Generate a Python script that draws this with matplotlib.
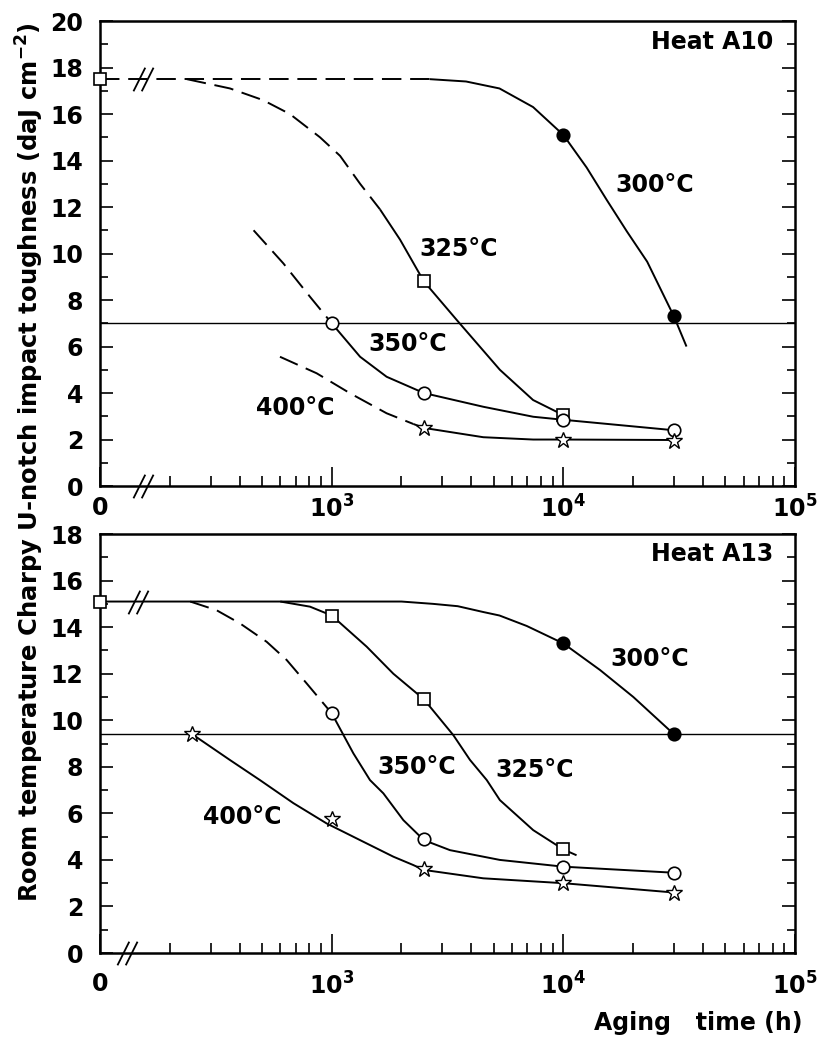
import numpy as np
import matplotlib
matplotlib.use("Agg")
import matplotlib.pyplot as plt
from matplotlib.path import Path
from matplotlib.ticker import FixedLocator, NullFormatter, FixedFormatter

plt.rcParams['font.family'] = ['DejaVu Sans']
plt.rcParams['font.weight'] = 'bold'
plt.rcParams['mathtext.fontset'] = 'dejavusans'
plt.rcParams['mathtext.default'] = 'bf'

# ---------------- data (aging time in h, toughness in daJ cm^-2) ----------------
x_tick_vals = [0, 1e3, 1e4, 1e5]
x_tick_labels = ['0', r'$10^3$', r'$10^4$', r'$10^5$']

# Heat A10
a10_t0 = 17.5
a10_ref = 7.0
a10_300_dash_t = [0, 2000, 2650]
a10_300_dash_v = [17.5, 17.5, 17.5]
a10_300_t = [2650, 3800, 5300, 7400, 10000, 12600, 15400, 18800, 23000, 30000, 34000]
a10_300_v = [17.5, 17.4, 17.1, 16.3, 15.1, 13.7, 12.3, 10.95, 9.65, 7.3, 6.0]
a10_300_pt_t = [10000, 30000]
a10_300_pt_v = [15.1, 7.3]

a10_325_dash_t = [237, 364, 505, 660, 890, 1087, 1326, 1616]
a10_325_dash_v = [17.5, 17.1, 16.6, 16.0, 15.0, 14.2, 13.0, 11.9]
a10_325_t = [1616, 1972, 2500, 3460, 5320, 7400, 10000]
a10_325_v = [11.9, 10.6, 8.8, 7.15, 5.0, 3.7, 3.05]
a10_325_pt_t = [2500, 10000]
a10_325_pt_v = [8.8, 3.05]

a10_350_dash_t = [460, 618, 806, 1000]
a10_350_dash_v = [11.0, 9.58, 8.14, 7.0]
a10_350_t = [1000, 1326, 1726, 2500, 4510, 7410, 10000, 30000]
a10_350_v = [7.0, 5.56, 4.70, 4.0, 3.41, 2.98, 2.85, 2.4]
a10_350_pt_t = [1000, 2500, 10000, 30000]
a10_350_pt_v = [7.0, 4.0, 2.85, 2.4]

a10_400_dash_t = [598, 861, 1200, 1726, 2250]
a10_400_dash_v = [5.56, 4.85, 3.99, 3.13, 2.67]
a10_400_t = [2250, 2500, 4510, 7410, 10000, 30000]
a10_400_v = [2.67, 2.5, 2.1, 2.0, 2.0, 1.98]
a10_400_pt_t = [2500, 10000, 30000]
a10_400_pt_v = [2.5, 2.0, 1.95]

# Heat A13
a13_t0 = 15.1
a13_ref = 9.4
a13_300_t = [0, 2000, 2740, 3500, 4510, 5300, 6950, 10000, 14390, 20040, 30000]
a13_300_v = [15.1, 15.1, 15.0, 14.9, 14.65, 14.5, 14.05, 13.3, 12.16, 11.0, 9.4]
a13_300_pt_t = [10000, 30000]
a13_300_pt_v = [13.3, 9.4]

a13_325_t = [600, 806, 1000, 1416, 1845, 2500, 3350, 3950, 4670, 5320, 7410, 10000, 11400]
a13_325_v = [15.1, 14.88, 14.5, 13.16, 12.0, 10.9, 9.36, 8.3, 7.43, 6.57, 5.28, 4.45, 4.2]
a13_325_pt_t = [1000, 2500, 10000]
a13_325_pt_v = [14.5, 10.9, 4.45]

a13_350_dash_t = [245, 318, 402, 524, 639, 780, 1000]
a13_350_dash_v = [15.1, 14.73, 14.16, 13.37, 12.59, 11.58, 10.3]
a13_350_t = [1000, 1240, 1463, 1671, 2038, 2500, 3240, 5320, 10000, 30000]
a13_350_v = [10.3, 8.58, 7.43, 6.86, 5.71, 4.85, 4.42, 4.0, 3.71, 3.45]
a13_350_pt_t = [1000, 2500, 10000, 30000]
a13_350_pt_v = [10.3, 4.9, 3.7, 3.45]

a13_400_t = [250, 364, 490, 683, 950, 1326, 1845, 2250, 2500, 4510, 10000, 30000]
a13_400_v = [9.4, 8.29, 7.43, 6.44, 5.57, 4.85, 4.14, 3.78, 3.57, 3.21, 3.0, 2.6]
a13_400_pt_t = [250, 1000, 2500, 10000, 30000]
a13_400_pt_v = [9.4, 5.75, 3.6, 3.0, 2.6]

# ---------------- helpers ----------------
ZERO_AT = 100.0  # where t = 0 sits on the broken log axis


def tp(t):
    t = np.asarray(t, dtype=float)
    return np.where(t == 0, ZERO_AT, t)


LW = 1.4
DASH = (0, (10, 4.5))


def curve(ax, t, v, dashed=False):
    ax.plot(tp(t), v, color='black', lw=LW, ls=DASH if dashed else '-',
            zorder=3, solid_capstyle='butt', solid_joinstyle='round',
            dash_joinstyle='round')


def pts(ax, t, v, kind):
    kw = dict(ls='none', color='black', mec='black', zorder=5, clip_on=False)
    if kind == 's':
        ax.plot(tp(t), v, marker='s', ms=8, mfc='white', mew=1.2, **kw)
    elif kind == 'o':
        ax.plot(tp(t), v, marker='o', ms=9, mfc='white', mew=1.2, **kw)
    elif kind == 'f':
        ax.plot(tp(t), v, marker='o', ms=9, mfc='black', mew=1.2, **kw)
    elif kind == '*':
        ax.plot(tp(t), v, marker='*', ms=12, mfc='white', mew=1.0, **kw)


slash_path = Path([(-0.85, -1), (0.15, 1), (-0.15, -1), (0.85, 1)],
                  [Path.MOVETO, Path.LINETO, Path.MOVETO, Path.LINETO])


def brk(ax, x, y):
    ax.plot([x], [y], marker=slash_path, ms=17, mec='black', mew=1.3,
            ls='none', zorder=6, clip_on=False)


def setup(ax, ymax, xpad):
    ax.set_xscale('log')
    ax.set_xlim(100, 1e5)
    ax.set_ylim(0, ymax)
    for s in ax.spines.values():
        s.set_linewidth(1.8)
    ax.xaxis.set_major_locator(FixedLocator(tp(x_tick_vals)))
    ax.xaxis.set_major_formatter(FixedFormatter(x_tick_labels))
    minors = [m * 10 ** d for d in (2, 3, 4) for m in range(2, 10)]
    ax.xaxis.set_minor_locator(FixedLocator(minors))
    ax.xaxis.set_minor_formatter(NullFormatter())
    ax.yaxis.set_major_locator(FixedLocator(np.arange(0, ymax + 0.1, 2)))
    ax.yaxis.set_minor_locator(FixedLocator(np.arange(0, ymax + 0.1, 1)))
    ax.tick_params(axis='x', which='major', direction='in', length=14, width=1.2,
                   labelsize=17, pad=xpad, top=False)
    ax.tick_params(axis='x', which='minor', direction='in', length=7.5, width=1.2,
                   top=False)
    ax.tick_params(axis='y', which='major', direction='in', length=9.5, width=1.2,
                   labelsize=17, pad=12, right=True)
    ax.tick_params(axis='y', which='minor', direction='in', length=6, width=1.2,
                   right=True)
    for lab in ax.get_xticklabels() + ax.get_yticklabels():
        lab.set_fontweight('bold')


def lab(ax, t, v, s):
    ax.text(t, v, s, fontsize=17, fontweight='bold', ha='center', va='center', zorder=7)


# ---------------- figure ----------------
fig = plt.figure(figsize=(8.22, 10.41), dpi=100)
ax1 = fig.add_axes([0.1217, 0.5331, 0.8455, 0.4467])
ax2 = fig.add_axes([0.1217, 0.0845, 0.8455, 0.4025])

# Heat A10
setup(ax1, 20, 7)
ax1.axhline(a10_ref, color='black', lw=1.0, zorder=2)
curve(ax1, a10_300_dash_t, a10_300_dash_v, dashed=True)
curve(ax1, a10_300_t, a10_300_v)
curve(ax1, a10_325_dash_t, a10_325_dash_v, dashed=True)
curve(ax1, a10_325_t, a10_325_v)
curve(ax1, a10_350_dash_t, a10_350_dash_v, dashed=True)
curve(ax1, a10_350_t, a10_350_v)
curve(ax1, a10_400_dash_t, a10_400_dash_v, dashed=True)
curve(ax1, a10_400_t, a10_400_v)
pts(ax1, [0], [a10_t0], 's')
pts(ax1, a10_300_pt_t, a10_300_pt_v, 'f')
pts(ax1, a10_325_pt_t, a10_325_pt_v, 's')
pts(ax1, a10_350_pt_t, a10_350_pt_v, 'o')
pts(ax1, a10_400_pt_t, a10_400_pt_v, '*')
brk(ax1, 153, 0)
brk(ax1, 153, a10_t0)
lab(ax1, 24840, 12.95, '300°C')
lab(ax1, 3540, 10.19, '325°C')
lab(ax1, 2133, 6.1, '350°C')
lab(ax1, 695, 3.35, '400°C')
ax1.text(0.968, 0.955, 'Heat A10', transform=ax1.transAxes, fontsize=17,
         fontweight='bold', ha='right', va='center')

# Heat A13
setup(ax2, 18, 14)
ax2.axhline(a13_ref, color='black', lw=1.0, zorder=2)
curve(ax2, a13_300_t, a13_300_v)
curve(ax2, a13_325_t, a13_325_v)
curve(ax2, a13_350_dash_t, a13_350_dash_v, dashed=True)
curve(ax2, a13_350_t, a13_350_v)
curve(ax2, a13_400_t, a13_400_v)
pts(ax2, [0], [a13_t0], 's')
pts(ax2, a13_300_pt_t, a13_300_pt_v, 'f')
pts(ax2, a13_325_pt_t, a13_325_pt_v, 's')
pts(ax2, a13_350_pt_t, a13_350_pt_v, 'o')
pts(ax2, a13_400_pt_t, a13_400_pt_v, '*')
brk(ax2, 131, 0)
brk(ax2, 146, a13_t0)
lab(ax2, 23650, 12.63, '300°C')
lab(ax2, 7540, 7.86, '325°C')
lab(ax2, 2333, 7.99, '350°C')
lab(ax2, 410, 5.84, '400°C')
ax2.text(0.968, 0.952, 'Heat A13', transform=ax2.transAxes, fontsize=17,
         fontweight='bold', ha='right', va='center')

fig.text(0.0365, 0.556,
         r'Room temperature Charpy U-notch impact toughness (daJ cm$^{-2}$)',
         rotation=90, fontsize=17.5, fontweight='bold', ha='center', va='center')
fig.text(0.976, 0.0173, 'Aging   time (h)', fontsize=17, fontweight='bold',
         ha='right', va='center')

fig.savefig('out.png', dpi=100)
